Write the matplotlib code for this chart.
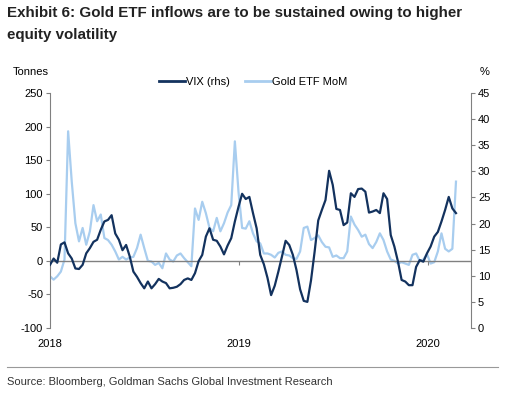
import numpy as np
import pandas as pd
import matplotlib
matplotlib.use('Agg')
import matplotlib.pyplot as plt
import matplotlib.dates as mdates
from matplotlib.lines import Line2D

plt.rcParams['font.family'] = ['Liberation Sans', 'DejaVu Sans']
plt.rcParams['axes.unicode_minus'] = False

# weekly observations starting first week of 2018
dates = pd.date_range('2018-01-01', periods=113, freq='7D')

# dark line, right axis (%)
vix_rhs = [
    12.1, 13.3, 12.5, 16.0, 16.4, 14.3, 13.3, 11.4, 11.3, 12.1,
    14.3, 15.3, 16.5, 16.9, 18.8, 20.4, 20.7, 21.6, 18.1, 16.9,
    14.9, 15.9, 13.7, 10.8, 9.8, 8.6, 7.6, 8.9, 7.6, 8.4,
    9.4, 8.9, 8.6, 7.6, 7.7, 7.9, 8.4, 9.2, 9.5, 9.2,
    10.5, 12.8, 14.0, 17.5, 19.1, 16.9, 16.7, 15.6, 14.1, 15.8,
    17.2, 20.4, 23.2, 25.7, 24.7, 25.1, 22.0, 19.1, 14.0, 12.2,
    9.6, 6.3, 8.1, 10.8, 13.7, 16.7, 15.9, 14.0, 11.1, 7.4,
    5.2, 5.0, 9.1, 14.6, 20.6, 22.6, 24.5, 30.1, 27.4, 22.8,
    22.6, 19.7, 20.2, 25.8, 25.1, 26.6, 26.7, 26.1, 22.1, 22.3,
    22.6, 22.0, 25.8, 24.7, 17.8, 15.6, 12.7, 9.2, 8.9, 8.2,
    8.2, 11.7, 13.0, 12.7, 14.3, 15.6, 17.5, 18.4, 20.4, 22.6,
    25.1, 22.9, 22.0,
]

# light line, left axis (tonnes)
gold_etf_mom = [
    -23, -28, -23, -16, 2, 193, 118, 56, 29, 49,
    24, 44, 83, 59, 69, 34, 31, 24, 14, 2,
    6, 2, 5, 6, 19, 39, 19, 0, -1, -6,
    -3, -11, 11, 2, -1, 8, 11, 4, -2, -8,
    78, 61, 88, 71, 49, 44, 64, 44, 56, 72,
    83, 178, 103, 49, 48, 59, 41, 29, 26, 11,
    11, 9, 5, 12, 14, 9, 8, 4, 3, 14,
    49, 51, 31, 34, 38, 28, 21, 20, 6, 8,
    4, 4, 14, 66, 54, 46, 36, 39, 25, 19,
    28, 41, 31, 14, 2, 0, -4, -2, -4, -6,
    9, 11, 0, 2, 10, -4, -2, 14, 41, 18,
    14, 18, 118,
]

dark = '#13325e'
light = '#a8cdef'
grey = '#808080'

fig = plt.figure(figsize=(5.13, 3.99), dpi=100)
ax = fig.add_axes([50 / 513, 1 - 328 / 399, 421 / 513, 235 / 399])
ax2 = ax.twinx()

ax.plot(dates, gold_etf_mom, color=light, lw=1.6)
ax2.plot(dates, vix_rhs, color=dark, lw=1.6)

ax.set_ylim(-100, 250)
ax.set_yticks(np.arange(-100, 251, 50))
ax2.set_ylim(0, 45)
ax2.set_yticks(np.arange(0, 46, 5))
ax.set_xlim(pd.Timestamp('2018-01-01'), pd.Timestamp('2020-03-24'))

ax.axhline(0, color=grey, lw=1)

years = [pd.Timestamp('2018-01-01'), pd.Timestamp('2019-01-01'), pd.Timestamp('2020-01-01')]
ax.set_xticks(years)
ax.xaxis.set_major_formatter(mdates.DateFormatter('%Y'))
ax.tick_params(axis='x', length=0, pad=8, labelsize=8)

# small year ticks hanging from the zero line
zero_pos = 100 / 350
sec = ax.secondary_xaxis(zero_pos)
sec.set_xticks(years)
sec.tick_params(axis='x', length=3, color=grey, labelbottom=False, labeltop=False)
sec.spines['bottom'].set_visible(False)
sec.spines['top'].set_visible(False)

for a in (ax, ax2):
    for s in ('top', 'bottom'):
        a.spines[s].set_visible(False)
    a.spines['left'].set_color(grey)
    a.spines['right'].set_color(grey)
ax2.spines['left'].set_visible(False)
ax.spines['right'].set_visible(False)

ax.tick_params(axis='y', length=3, color=grey, labelsize=8, pad=2)
ax2.tick_params(axis='y', length=3, color=grey, labelsize=8, pad=2)

fig.text(13 / 513, 1 - 72 / 399, 'Tonnes', fontsize=8, va='center', ha='left')
fig.text(485 / 513, 1 - 72 / 399, '%', fontsize=8, va='center', ha='center')

handles = [Line2D([], [], color=dark, lw=2), Line2D([], [], color=light, lw=2)]
fig.legend(handles, ['VIX (rhs)', 'Gold ETF MoM'], loc='center',
           bbox_to_anchor=(253 / 513, 1 - 82 / 399), ncol=2, frameon=False,
           fontsize=8, handlelength=2.3, handletextpad=0.1, columnspacing=1.4)

fig.text(7 / 513, 1 - 13 / 399, 'Exhibit 6: Gold ETF inflows are to be sustained owing to higher',
         fontsize=10.9, fontweight='bold', color='#222222', va='center')
fig.text(7 / 513, 1 - 35 / 399, 'equity volatility',
         fontsize=10.9, fontweight='bold', color='#222222', va='center')

fig.add_artist(Line2D([7 / 513, 498 / 513], [1 - 367 / 399, 1 - 367 / 399],
                      color='#999999', lw=0.8))
fig.text(7 / 513, 1 - 382 / 399, 'Source: Bloomberg, Goldman Sachs Global Investment Research',
         fontsize=8, color='#333333', va='center')

fig.savefig('out.png', dpi=100)
